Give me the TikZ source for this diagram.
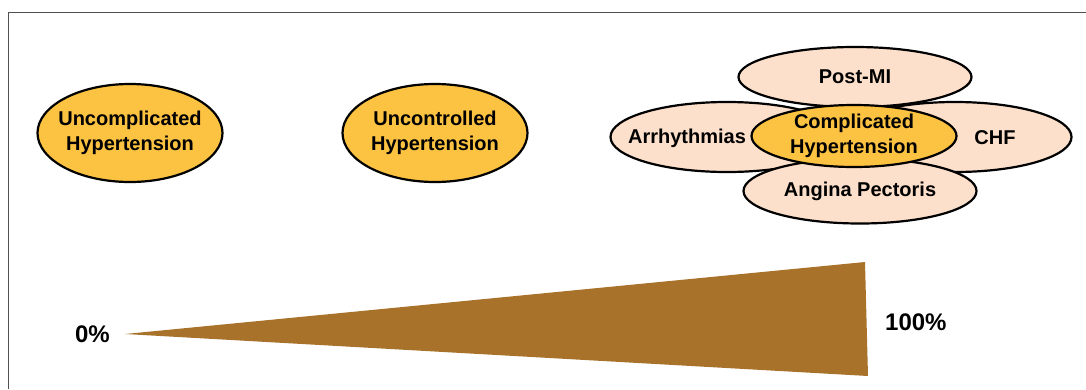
\documentclass[tikz,border=0pt]{standalone}
\usepackage{fontspec}
\setmainfont{Liberation Sans}
\usepackage{xcolor}
\usepackage{tikz}
\usetikzlibrary{positioning, shapes.geometric}

\definecolor{stageorange}{RGB}{252,194,66}
\definecolor{petalpeach}{RGB}{253,224,203}
\definecolor{wedgebrown}{RGB}{168,114,42}
\definecolor{framegray}{RGB}{80,80,80}

\begin{document}
\begin{tikzpicture}[x=1pt, y=-1pt,
    stage/.style={draw, ellipse, line width=2.2pt, fill=stageorange, inner sep=0pt},
    petal/.style={draw, ellipse, line width=2.2pt, fill=petalpeach, inner sep=0pt, align=center, font=\fontsize{20}{25}\selectfont\bfseries},
    lbl/.style={inner sep=0pt, align=center, font=\fontsize{20}{25}\selectfont\bfseries},
    pct/.style={inner sep=0pt, font=\fontsize{24}{28}\selectfont\bfseries}]

\useasboundingbox (0,0) rectangle (1086,389);

% Frame
\draw[framegray, line width=1pt] (8,389) -- (8,12) -- (1086,12);

% Stages
\node[stage, minimum width=185pt, minimum height=98pt] (UNC) at (130,133) {};
\node[lbl] (UNC-t) at (UNC) {Uncomplicated\\Hypertension};
\node[stage, minimum width=185pt, minimum height=98pt] (UCT) at (435,133) {};
\node[lbl] (UCT-t) at (UCT) {Uncontrolled\\Hypertension};

% Complications
\node[petal, minimum width=233pt, minimum height=70pt] (ARR) at (727,137) {};
\node[petal, minimum width=233pt, minimum height=70pt] (CHF) at (955,137) {};
\node[lbl] (ARR-t) at (687,138) {Arrhythmias};
\node[lbl] (CHF-t) at (995,138) {CHF};
\node[petal, minimum width=233pt, minimum height=60pt] (PMI) at (855,77) {Post-MI};
\node[petal, minimum width=233pt, minimum height=65pt] (ANG) at (860,191) {Angina Pectoris};
\node[stage, minimum width=205pt, minimum height=62pt] (CMP) at (854,136) {};
\node[lbl] (CMP-t) at (CMP) {Complicated\\Hypertension};

% Wedge
\coordinate (tip) at (125,334);
\coordinate (top) at (865,262);
\coordinate (bot) at (868,376);
\fill[wedgebrown] (tip) -- (top) -- (bot) -- cycle;

% Labels
\node[pct, left=15pt of tip] (zero) {0\%};
\node[pct, anchor=west] (full) at (885,322) {100\%};

\end{tikzpicture}
\end{document}
